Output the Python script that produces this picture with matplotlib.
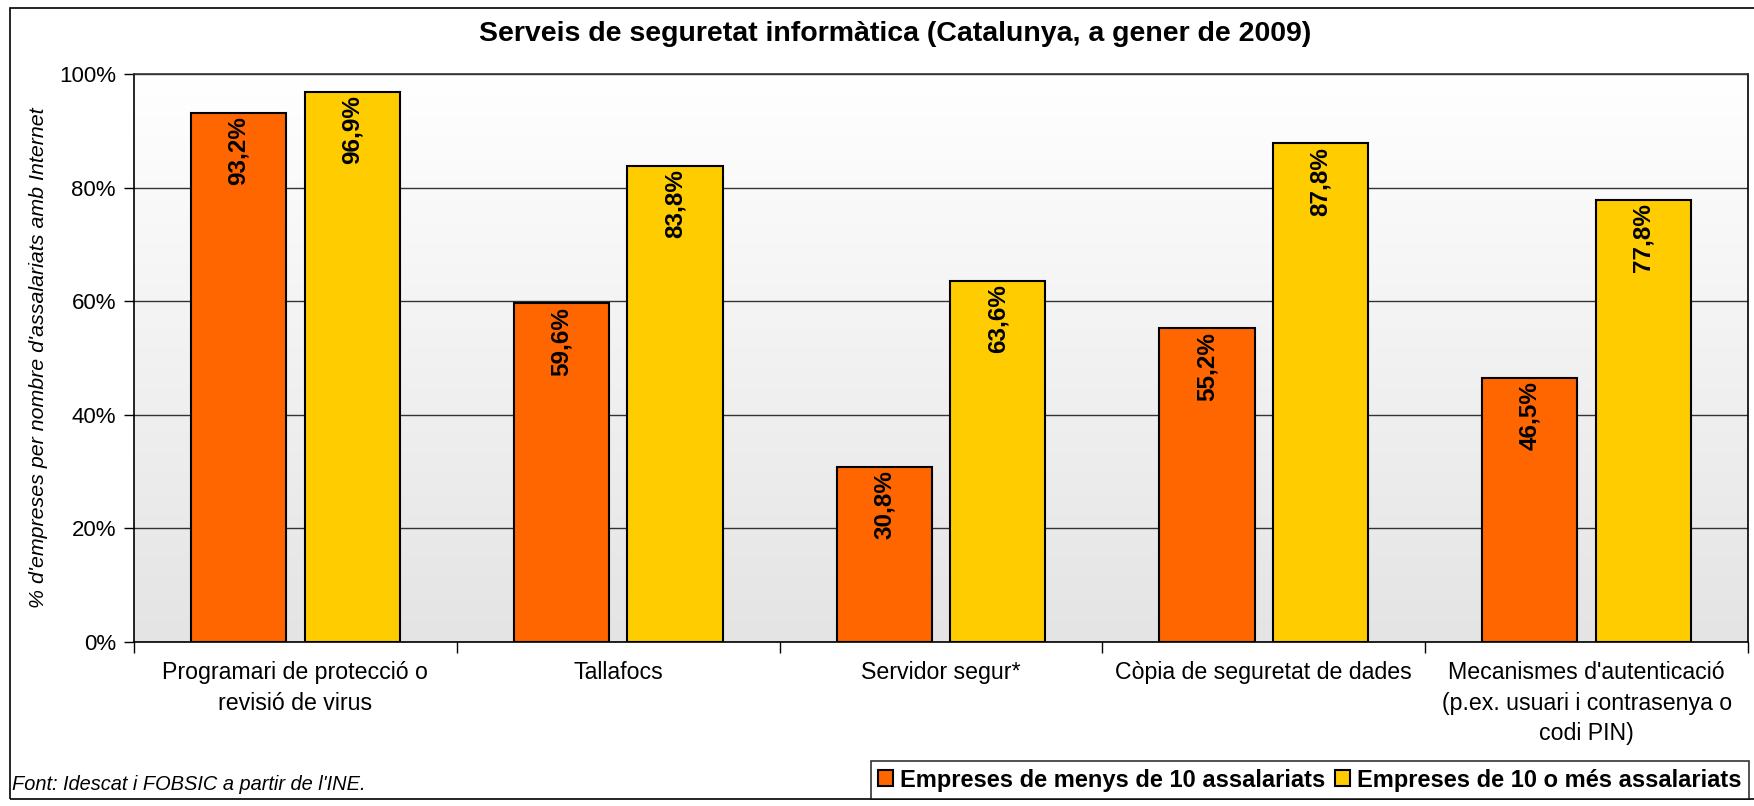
import numpy as np
import matplotlib
matplotlib.use("Agg")
from matplotlib import pyplot as plt
from matplotlib.patches import Rectangle

plt.rcParams['font.family'] = ['Liberation Sans', 'DejaVu Sans']

categories = ["Programari de protecció o\nrevisió de virus",
              "Tallafocs",
              "Servidor segur*",
              "Còpia de seguretat de dades",
              "Mecanismes d'autenticació\n(p.ex. usuari i contrasenya o\ncodi PIN)"]
small = [93.2, 59.6, 30.8, 55.2, 46.5]
large = [96.9, 83.8, 63.6, 87.8, 77.8]
series_names = ["Empreses de menys de 10 assalariats", "Empreses de 10 o més assalariats"]
yticks = [0, 20, 40, 60, 80, 100]

W, H = 1754, 806
fig = plt.figure(figsize=(W / 100, H / 100), dpi=100)
ax = fig.add_axes([134 / W, 1 - 642 / H, (1748 - 134) / W, (642 - 74) / H])

# gradient background of the plot area
grad = np.linspace(1.0, 0.0, 256).reshape(-1, 1)
cmap = matplotlib.colors.LinearSegmentedColormap.from_list("bg", ["#e4e4e4", "#ffffff"])
ax.imshow(grad, aspect='auto', cmap=cmap, extent=[0, 1, 0, 1], transform=ax.transAxes, zorder=0)

x = np.arange(len(categories))
w = 0.295
off = 0.176
b1 = ax.bar(x - off, small, w, color='#FF6600', edgecolor='black', linewidth=1.5, zorder=3, label=series_names[0])
b2 = ax.bar(x + off, large, w, color='#FFCC00', edgecolor='black', linewidth=1.5, zorder=3, label=series_names[1])

for bars, vals in ((b1, small), (b2, large)):
    for b, v in zip(bars, vals):
        ax.text(b.get_x() + b.get_width() / 2, v - 0.6, ("%.1f%%" % v).replace('.', ','),
                rotation=90, ha='center', va='top', fontsize=17.5, fontweight='bold', zorder=4)

ax.set_xlim(-0.5, len(categories) - 0.5)
ax.set_ylim(0, 100)
ax.set_yticks(yticks)
ax.set_yticklabels(["%d%%" % t for t in yticks], fontsize=16)
ax.yaxis.grid(True, color='#333333', linewidth=1, zorder=1)
ax.set_axisbelow(True)

ax.set_xticks(x)
ax.set_xticklabels(categories, fontsize=16.7, linespacing=1.4)
ax.set_xticks(np.arange(-0.5, len(categories)), minor=True)
ax.tick_params(axis='x', which='major', length=0, pad=14)
ax.tick_params(axis='x', which='minor', length=8, width=1)
ax.tick_params(axis='y', length=7, width=1, pad=6)

for s in ax.spines.values():
    s.set_linewidth(1.2)
ax.spines['top'].set_color('#333333')

ax.set_ylabel("% d'empreses per nombre d'assalariats amb Internet", fontsize=15.4, style='italic', labelpad=8)

fig.text(895 / W, 1 - 34 / H, "Serveis de seguretat informàtica (Catalunya, a gener de 2009)",
         ha='center', va='center', fontsize=20.5, fontweight='bold')
fig.text(12 / W, 1 - 784 / H, "Font: Idescat i FOBSIC a partir de l'INE.",
         ha='left', va='center', fontsize=14.4, style='italic')

leg = fig.legend(handles=[b1, b2], loc='center right', bbox_to_anchor=(1749 / W, 1 - 780 / H),
                 ncol=2, frameon=True, fancybox=False, edgecolor='black', handlelength=0.65,
                 handleheight=0.65, handletextpad=0.3, columnspacing=0.4, borderpad=0.3,
                 borderaxespad=0, prop={'weight': 'bold', 'size': 17})
leg.get_frame().set_linewidth(1.2)

# outer chart frame
fig.add_artist(Rectangle((10 / W, 1 - 799 / H), 1.1, (799 - 8) / H, transform=fig.transFigure,
                         fill=False, edgecolor='black', linewidth=1.2))

fig.savefig("out.png", dpi=100)
